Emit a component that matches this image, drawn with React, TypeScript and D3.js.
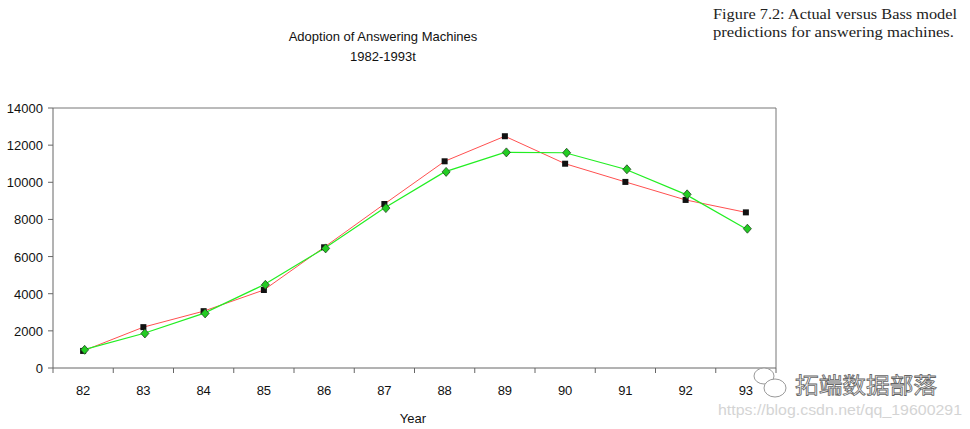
import React from "react";
import * as d3 from "d3";

const years = ["82", "83", "84", "85", "86", "87", "88", "89", "90", "91", "92", "93"];
const actual = [920, 2200, 3060, 4200, 6500, 8830, 11130, 12480, 11000, 10020, 9050, 8380];
const predicted = [980, 1860, 2940, 4480, 6440, 8610, 10560, 11610, 11590, 10700, 9350, 7500];
const yTicks = [0, 2000, 4000, 6000, 8000, 10000, 12000, 14000];

const W = 970, H = 429;
const L = 53, R = 776, T = 108, B = 368;

export default function App() {
  const x = d3.scaleBand<string>().domain(years).range([L, R]);
  const y = d3.scaleLinear().domain([0, 14000]).range([B, T]);
  const cx = (d: string) => (x(d) as number) + x.bandwidth() / 2;
  const line = d3.line<number>().x((_, i) => cx(years[i])).y((v) => y(v));
  const font = "Liberation Sans, Arial, sans-serif";
  return (
    <svg width={W} height={H} style={{ position: "absolute", left: 0, top: 0, background: "#fff" }}>
      <rect x={0} y={0} width={W} height={H} fill="#fff" />
      <text x={383} y={41} textAnchor="middle" fontFamily={font} fontSize={13} fill="#111">Adoption of Answering Machines</text>
      <text x={383} y={61} textAnchor="middle" fontFamily={font} fontSize={13} fill="#111">1982-1993t</text>
      <text x={713} y={19} fontFamily="Liberation Serif, serif" fontSize={15.5} fill="#222" textLength={244} lengthAdjust="spacingAndGlyphs">Figure 7.2:  Actual versus Bass model</text>
      <text x={713} y={37} fontFamily="Liberation Serif, serif" fontSize={15.5} fill="#222" textLength={241} lengthAdjust="spacingAndGlyphs">predictions for answering machines.</text>
      {/* frame */}
      <line x1={L} y1={T} x2={R} y2={T} stroke="#777" strokeWidth={1} />
      <line x1={R} y1={T} x2={R} y2={B} stroke="#777" strokeWidth={1} />
      <line x1={L} y1={T} x2={L} y2={B} stroke="#666" strokeWidth={1} />
      <line x1={L} y1={B} x2={R} y2={B} stroke="#666" strokeWidth={1} />
      {yTicks.map((t) => (
        <g key={t}>
          <line x1={L - 5} x2={L} y1={y(t)} y2={y(t)} stroke="#666" />
          <text x={43} y={y(t) + 5} textAnchor="end" fontFamily={font} fontSize={13} fill="#111">{t}</text>
        </g>
      ))}
      {years.map((d) => (
        <g key={d}>
          <line x1={x(d) as number} x2={x(d) as number} y1={B} y2={B + 5} stroke="#666" />
          <text x={cx(d)} y={395} textAnchor="middle" fontFamily={font} fontSize={13} fill="#111">{d}</text>
        </g>
      ))}
      <line x1={R} x2={R} y1={B} y2={B + 5} stroke="#666" />
      <text x={413} y={423} textAnchor="middle" fontFamily={font} fontSize={13} fill="#111">Year</text>
      <path d={line(actual) as string} fill="none" stroke="#ff5050" strokeWidth={1} />
      <path d={line(predicted) as string} fill="none" stroke="#22ee22" strokeWidth={1.2} />
      {actual.map((v, i) => (
        <rect key={"a" + i} x={cx(years[i]) - 3} y={y(v) - 3} width={6} height={6} fill="#111" />
      ))}
      {predicted.map((v, i) => {
        const px = cx(years[i]) + 1.5, py = y(v);
        return (
          <path key={"p" + i} d={`M${px},${py - 4.5}L${px + 4},${py}L${px},${py + 4.5}L${px - 4},${py}Z`} fill="#22cc22" stroke="#224422" strokeWidth={0.8} />
        );
      })}
      <g fill="#fff" stroke="#999" strokeWidth={1}>
        <ellipse cx={764} cy={376} rx={10} ry={8} />
        <ellipse cx={775} cy={388} rx={11} ry={9} />
      </g>
      <text x={795} y={393} fontFamily="Noto Sans CJK SC, sans-serif" fontSize={22} fill="#fff" stroke="#666" strokeWidth={0.8} textLength={142} lengthAdjust="spacingAndGlyphs">拓端数据部落</text>
      <text x={718} y={415} fontFamily={font} fontSize={14.5} fill="#d4d4d4" textLength={244} lengthAdjust="spacingAndGlyphs">https://blog.csdn.net/qq_19600291</text>
    </svg>
  );
}
